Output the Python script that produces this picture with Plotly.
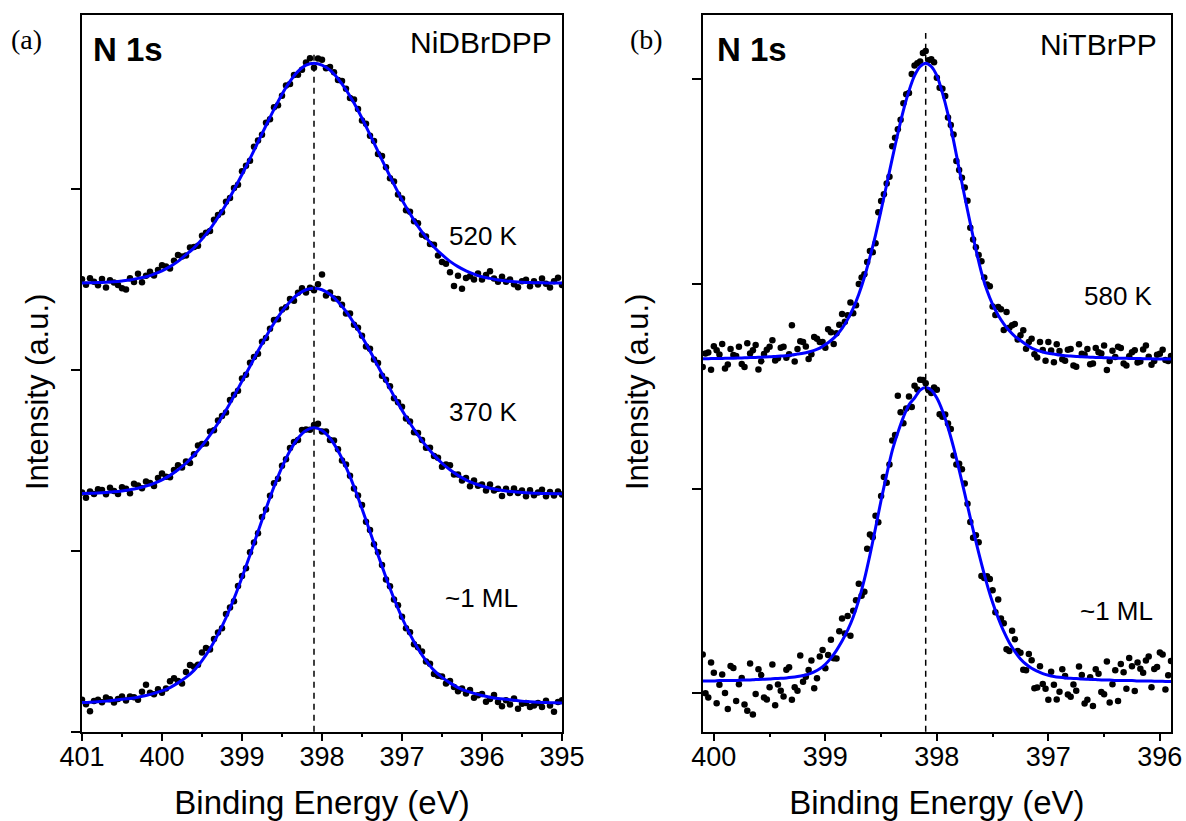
import numpy as np
import plotly.graph_objects as go

# ---------------- data ----------------
# Panel (a): NiDBrDPP, N 1s, binding energy 401 -> 395 eV (0.05 eV steps)
energy_a = np.round(np.linspace(401.0, 395.0, 121), 3)
fit_energy_a = np.round(np.linspace(401.0, 395.0, 61), 3)

a_1ML = [0.176, 0.152, 0.113, 0.170, 0.176, 0.163, 0.189, 0.180, 0.162, 0.181,
         0.194, 0.173, 0.194, 0.191, 0.176, 0.221, 0.260, 0.216, 0.207, 0.235,
         0.216, 0.239, 0.279, 0.295, 0.280, 0.267, 0.330, 0.369, 0.359, 0.370,
         0.438, 0.463, 0.454, 0.513, 0.548, 0.572, 0.650, 0.686, 0.721, 0.806,
         0.861, 0.904, 0.992, 1.046, 1.097, 1.187, 1.228, 1.304, 1.374, 1.398,
         1.470, 1.506, 1.568, 1.602, 1.612, 1.668, 1.670, 1.669, 1.695, 1.702,
         1.660, 1.660, 1.612, 1.610, 1.561, 1.499, 1.477, 1.415, 1.344, 1.306,
         1.253, 1.161, 1.115, 1.036, 0.992, 0.922, 0.841, 0.804, 0.731, 0.699,
         0.635, 0.572, 0.550, 0.483, 0.467, 0.443, 0.388, 0.375, 0.319, 0.309,
         0.305, 0.267, 0.280, 0.247, 0.224, 0.239, 0.211, 0.230, 0.187, 0.201,
         0.208, 0.166, 0.181, 0.203, 0.164, 0.141, 0.174, 0.151, 0.184, 0.127,
         0.154, 0.158, 0.136, 0.145, 0.158, 0.137, 0.171, 0.145, 0.110, 0.164,
         0.174]

a_370K = [1.322, 1.293, 1.328, 1.314, 1.340, 1.336, 1.313, 1.349, 1.331, 1.314,
          1.351, 1.343, 1.318, 1.371, 1.361, 1.346, 1.383, 1.375, 1.358, 1.402,
          1.427, 1.409, 1.407, 1.447, 1.473, 1.460, 1.494, 1.486, 1.534, 1.582,
          1.590, 1.593, 1.659, 1.666, 1.720, 1.745, 1.765, 1.834, 1.863, 1.885,
          1.953, 1.973, 2.040, 2.072, 2.090, 2.156, 2.176, 2.228, 2.276, 2.280,
          2.334, 2.347, 2.392, 2.382, 2.426, 2.452, 2.428, 2.454, 2.441, 2.474,
          2.528, 2.412, 2.428, 2.395, 2.392, 2.360, 2.312, 2.312, 2.250, 2.233,
          2.189, 2.129, 2.117, 2.057, 2.038, 1.968, 1.946, 1.910, 1.843, 1.821,
          1.797, 1.732, 1.715, 1.656, 1.651, 1.613, 1.570, 1.570, 1.524, 1.514,
          1.464, 1.477, 1.473, 1.422, 1.422, 1.389, 1.402, 1.357, 1.388, 1.360,
          1.366, 1.333, 1.366, 1.333, 1.343, 1.303, 1.343, 1.319, 1.344, 1.319,
          1.333, 1.301, 1.335, 1.307, 1.323, 1.338, 1.302, 1.325, 1.306, 1.328,
          1.311]

a_520K = [2.501, 2.471, 2.507, 2.487, 2.468, 2.502, 2.455, 2.495, 2.483, 2.470,
          2.452, 2.445, 2.507, 2.486, 2.531, 2.485, 2.520, 2.543, 2.522, 2.553,
          2.578, 2.571, 2.561, 2.604, 2.635, 2.627, 2.632, 2.677, 2.680, 2.686,
          2.741, 2.758, 2.768, 2.830, 2.856, 2.871, 2.930, 2.950, 3.006, 3.023,
          3.098, 3.129, 3.156, 3.234, 3.268, 3.300, 3.366, 3.386, 3.452, 3.463,
          3.516, 3.572, 3.580, 3.630, 3.632, 3.660, 3.700, 3.723, 3.670, 3.721,
          3.715, 3.668, 3.675, 3.645, 3.602, 3.597, 3.554, 3.503, 3.495, 3.442,
          3.379, 3.361, 3.295, 3.266, 3.193, 3.182, 3.120, 3.059, 3.041, 2.970,
          2.948, 2.882, 2.874, 2.822, 2.811, 2.747, 2.738, 2.696, 2.692, 2.632,
          2.597, 2.587, 2.540, 2.464, 2.521, 2.449, 2.508, 2.518, 2.500, 2.533,
          2.500, 2.525, 2.546, 2.506, 2.487, 2.515, 2.487, 2.500, 2.473, 2.457,
          2.490, 2.499, 2.463, 2.490, 2.472, 2.506, 2.476, 2.455, 2.490, 2.510,
          2.470]

fit_a_1ML = [0.161, 0.163, 0.166, 0.169, 0.174, 0.179, 0.184, 0.191, 0.200, 0.212,
             0.226, 0.244, 0.270, 0.300, 0.339, 0.393, 0.459, 0.538, 0.630, 0.736,
             0.853, 0.977, 1.105, 1.233, 1.354, 1.462, 1.553, 1.622, 1.665, 1.680,
             1.665, 1.622, 1.553, 1.462, 1.354, 1.233, 1.105, 0.977, 0.853, 0.736,
             0.630, 0.538, 0.459, 0.393, 0.339, 0.300, 0.270, 0.244, 0.226, 0.212,
             0.200, 0.191, 0.184, 0.179, 0.174, 0.169, 0.166, 0.163, 0.161, 0.160,
             0.159]

fit_a_370K = [1.317, 1.318, 1.320, 1.323, 1.326, 1.331, 1.338, 1.346, 1.358, 1.373,
              1.392, 1.417, 1.448, 1.484, 1.529, 1.580, 1.639, 1.705, 1.777, 1.855,
              1.938, 2.020, 2.105, 2.184, 2.258, 2.324, 2.377, 2.418, 2.443, 2.451,
              2.443, 2.418, 2.377, 2.324, 2.258, 2.184, 2.105, 2.020, 1.938, 1.855,
              1.777, 1.705, 1.639, 1.580, 1.529, 1.484, 1.448, 1.417, 1.392, 1.373,
              1.358, 1.346, 1.338, 1.331, 1.326, 1.323, 1.320, 1.318, 1.317, 1.316,
              1.316]

fit_a_520K = [2.481, 2.482, 2.483, 2.485, 2.488, 2.492, 2.497, 2.506, 2.515, 2.530,
              2.548, 2.571, 2.600, 2.637, 2.675, 2.723, 2.778, 2.844, 2.915, 2.996,
              3.080, 3.168, 3.260, 3.351, 3.440, 3.524, 3.595, 3.650, 3.685, 3.695,
              3.685, 3.657, 3.610, 3.549, 3.475, 3.391, 3.300, 3.208, 3.115, 3.026,
              2.940, 2.864, 2.793, 2.733, 2.680, 2.637, 2.600, 2.571, 2.548, 2.530,
              2.515, 2.506, 2.497, 2.492, 2.488, 2.485, 2.483, 2.482, 2.481, 2.480,
              2.480]

# Panel (b): NiTBrPP, N 1s, binding energy 400.1 -> 395.9 eV (0.025 eV steps)
energy_b = np.round(np.linspace(400.1, 395.9, 169), 3)
fit_energy_b = np.round(np.linspace(400.1, 395.9, 85), 3)

b_1ML = [0.190, 0.000, -0.020, 0.150, 0.100, -0.049, 0.042, 0.092, 0.002, -0.077,
         0.133, 0.123, -0.037, 0.044, 0.075, -0.055, -0.085, 0.146, -0.104, -0.003,
         0.118, 0.089, -0.021, -0.030, 0.030, 0.141, -0.058, 0.043, 0.013, -0.016,
         0.115, 0.127, -0.032, 0.030, 0.012, 0.185, 0.057, 0.081, 0.114, 0.160,
         0.025, 0.073, 0.180, 0.211, 0.122, 0.187, 0.262, 0.171, 0.170, 0.303,
         0.365, 0.292, 0.378, 0.281, 0.403, 0.454, 0.535, 0.476, 0.496, 0.706,
         0.776, 0.762, 0.867, 0.835, 0.963, 1.056, 1.028, 1.117, 1.235, 1.262,
         1.453, 1.373, 1.319, 1.391, 1.449, 1.398, 1.502, 1.484, 1.531, 1.530,
         1.514, 1.480, 1.466, 1.494, 1.482, 1.363, 1.350, 1.361, 1.318, 1.291,
         1.161, 1.117, 1.121, 1.094, 1.025, 0.926, 0.837, 0.760, 0.772, 0.738,
         0.573, 0.563, 0.572, 0.558, 0.503, 0.396, 0.458, 0.365, 0.342, 0.215,
         0.207, 0.306, 0.264, 0.206, 0.198, 0.115, 0.112, 0.192, 0.162, 0.025,
         0.028, 0.132, 0.046, 0.022, -0.032, 0.105, 0.042, -0.030, 0.008, 0.117,
         0.085, -0.006, -0.017, 0.043, 0.012, 0.131, 0.090, -0.050, -0.031, 0.079,
         -0.062, 0.117, 0.096, 0.006, -0.005, 0.155, -0.045, 0.044, 0.113, -0.037,
         0.143, 0.103, 0.022, 0.172, 0.132, 0.011, 0.150, 0.120, 0.100, 0.160,
         0.180, 0.030, 0.119, 0.129, 0.199, 0.189, 0.018, 0.088, 0.158]

b_580K = [1.594, 1.659, 1.664, 1.580, 1.695, 1.675, 1.655, 1.706, 1.586, 1.606,
          1.681, 1.652, 1.647, 1.693, 1.608, 1.594, 1.709, 1.660, 1.675, 1.701,
          1.581, 1.622, 1.657, 1.678, 1.693, 1.724, 1.625, 1.636, 1.687, 1.693,
          1.639, 1.656, 1.797, 1.620, 1.682, 1.719, 1.716, 1.694, 1.632, 1.656,
          1.740, 1.731, 1.716, 1.715, 1.688, 1.778, 1.763, 1.706, 1.758, 1.800,
          1.852, 1.814, 1.846, 1.909, 1.856, 1.895, 1.999, 2.031, 2.047, 2.106,
          2.160, 2.154, 2.198, 2.349, 2.404, 2.437, 2.490, 2.523, 2.671, 2.713,
          2.754, 2.801, 2.882, 2.925, 2.932, 3.024, 3.066, 3.077, 3.086, 3.127,
          3.137, 3.092, 3.096, 3.082, 3.006, 2.957, 2.952, 2.917, 2.812, 2.775,
          2.729, 2.600, 2.556, 2.518, 2.470, 2.405, 2.274, 2.216, 2.178, 2.141,
          2.110, 2.031, 1.997, 1.988, 1.889, 1.848, 1.886, 1.875, 1.774, 1.862,
          1.785, 1.797, 1.803, 1.728, 1.748, 1.773, 1.683, 1.715, 1.731, 1.656,
          1.640, 1.716, 1.677, 1.624, 1.716, 1.674, 1.617, 1.705, 1.672, 1.631,
          1.624, 1.678, 1.682, 1.601, 1.595, 1.704, 1.658, 1.653, 1.682, 1.607,
          1.611, 1.686, 1.665, 1.660, 1.699, 1.579, 1.623, 1.673, 1.642, 1.692,
          1.686, 1.611, 1.601, 1.646, 1.665, 1.675, 1.615, 1.620, 1.679, 1.699,
          1.644, 1.604, 1.623, 1.653, 1.658, 1.678, 1.628, 1.623, 1.647]

fit_b_1ML = [0.060, 0.060, 0.060, 0.062, 0.062, 0.063, 0.063, 0.065, 0.065, 0.066,
             0.068, 0.069, 0.070, 0.072, 0.073, 0.075, 0.078, 0.082, 0.087, 0.094,
             0.105, 0.120, 0.142, 0.172, 0.210, 0.255, 0.308, 0.373, 0.455, 0.556,
             0.676, 0.807, 0.943, 1.068, 1.185, 1.273, 1.349, 1.409, 1.442, 1.481,
             1.494,
             1.481, 1.442, 1.380, 1.298, 1.201, 1.091, 0.975, 0.857, 0.742, 0.633,
             0.532, 0.443, 0.368, 0.302, 0.247, 0.204, 0.168, 0.142, 0.122, 0.108,
             0.096, 0.088, 0.082, 0.078, 0.075, 0.073, 0.072, 0.070, 0.069, 0.068,
             0.066, 0.065, 0.065, 0.063, 0.063, 0.062, 0.062, 0.060, 0.060, 0.060,
             0.059, 0.059, 0.058, 0.058]

fit_b_580K = [1.634, 1.634, 1.635, 1.635, 1.636, 1.636, 1.637, 1.638, 1.639, 1.640,
              1.641, 1.642, 1.643, 1.645, 1.647, 1.649, 1.652, 1.657, 1.661, 1.667,
              1.675, 1.686, 1.703, 1.723, 1.748, 1.782, 1.826, 1.881, 1.949, 2.032,
              2.130, 2.238, 2.359, 2.485, 2.611, 2.734, 2.847, 2.942, 3.016, 3.061,
              3.077,
              3.061, 3.016, 2.932, 2.827, 2.699, 2.561, 2.425, 2.294, 2.168, 2.055,
              1.967, 1.899, 1.846, 1.804, 1.770, 1.743, 1.723, 1.703, 1.686, 1.675,
              1.667, 1.661, 1.657, 1.652, 1.649, 1.647, 1.645, 1.643, 1.642, 1.641,
              1.640, 1.639, 1.638, 1.637, 1.636, 1.636, 1.635, 1.635, 1.634, 1.634,
              1.633, 1.633, 1.633, 1.632]

peak_position = 398.1          # dashed reference line (eV)
labels_a = ["~1 ML", "370 K", "520 K"]
labels_b = ["~1 ML", "580 K"]
x_ticks_a = [401, 400, 399, 398, 397, 396, 395]
x_ticks_b = [400, 399, 398, 397, 396]

# ---------------- figure ----------------
W, H = 1186, 821
SANS = "Liberation Sans, Arial, sans-serif"
SERIF = "Liberation Serif, Times New Roman, serif"
BLUE = "#0000ff"


def fx(p):
    return p / W


def fy(p):
    return 1 - p / H


fig = go.Figure()

for ys, fits in [(a_1ML, fit_a_1ML), (a_370K, fit_a_370K), (a_520K, fit_a_520K)]:
    fig.add_trace(go.Scatter(x=energy_a, y=ys, mode="markers",
                             marker=dict(color="black", size=6.5),
                             xaxis="x", yaxis="y", showlegend=False,
                             hoverinfo="skip"))
    fig.add_trace(go.Scatter(x=fit_energy_a, y=fits, mode="lines",
                             line=dict(color=BLUE, width=3, shape="spline", smoothing=0.8),
                             xaxis="x", yaxis="y", showlegend=False))

for ys, fits in [(b_1ML, fit_b_1ML), (b_580K, fit_b_580K)]:
    fig.add_trace(go.Scatter(x=energy_b, y=ys, mode="markers",
                             marker=dict(color="black", size=6.5),
                             xaxis="x2", yaxis="y2", showlegend=False,
                             hoverinfo="skip"))
    fig.add_trace(go.Scatter(x=fit_energy_b, y=fits, mode="lines",
                             line=dict(color=BLUE, width=3, shape="spline", smoothing=0.8),
                             xaxis="x2", yaxis="y2", showlegend=False))

axis_common = dict(showline=True, linecolor="black", linewidth=1.5, mirror=True,
                   showgrid=False, zeroline=False, ticks="outside",
                   tickcolor="black", tickwidth=1.5, automargin=False)

x_common = dict(axis_common, ticklen=8, ticklabelstandoff=-8,
                tickfont=dict(family=SANS, size=27, color="black"),
                minor=dict(ticks="outside", ticklen=4, tickwidth=1.5,
                           tickcolor="black", dtick=0.5, showgrid=False),
                title=dict(text="Binding Energy (eV)",
                           font=dict(family=SANS, size=33, color="black"),
                           standoff=20))

y_common = dict(axis_common, ticklen=9, showticklabels=False, tickvals=[0, 1, 2, 3])

y_dom = [fy(731.7), fy(15)]

fig.update_layout(
    width=W, height=H,
    margin=dict(l=0, r=0, t=0, b=0),
    paper_bgcolor="white", plot_bgcolor="white",
    showlegend=False,
    xaxis=dict(x_common, domain=[fx(82), fx(562)], range=[401, 395],
               tickvals=x_ticks_a, anchor="y"),
    yaxis=dict(y_common, domain=y_dom, range=[0, 3.962], anchor="x"),
    xaxis2=dict(x_common, domain=[fx(702.7), fx(1171)], range=[400.1, 395.9],
                tickvals=x_ticks_b, anchor="y2"),
    yaxis2=dict(y_common, domain=y_dom, range=[-0.1875, 3.3125], anchor="x2"),
)

# dashed vertical reference lines at the peak position
fig.add_shape(type="line", xref="x", yref="y domain", x0=peak_position, x1=peak_position,
              y0=0, y1=0.95, line=dict(color="black", width=1.5, dash="6px,5px"))
fig.add_shape(type="line", xref="x2", yref="y2 domain", x0=peak_position, x1=peak_position,
              y0=0, y1=0.975, line=dict(color="black", width=1.5, dash="6px,5px"))


def note(text, x, y, xanchor, size, family=SANS, bold=False, angle=0):
    fig.add_annotation(text=f"<b>{text}</b>" if bold else text,
                       x=fx(x), y=fy(y), xref="paper", yref="paper",
                       xanchor=xanchor, yanchor="middle", showarrow=False,
                       textangle=angle,
                       font=dict(family=family, size=size, color="black"))


# y-axis titles
note("Intensity (a.u.)", 37, 392, "center", 31, angle=-90)
note("Intensity (a.u.)", 637, 392, "center", 31, angle=-90)

note("(a)", 26, 40, "center", 28, SERIF)
note("(b)", 646, 40, "center", 28, SERIF)
note("N 1s", 91, 49, "left", 33, bold=True)
note("N 1s", 715, 49, "left", 33, bold=True)
note("NiDBrDPP", 554, 43, "right", 30)
note("NiTBrPP", 1159, 44, "right", 30)

for text, yp in zip(labels_a, [598, 412, 236]):
    note(text, 520, yp, "right", 26)
for text, yp in zip(labels_b, [611, 296]):
    note(text, 1155, yp, "right", 26)

fig.write_html("out.html")
